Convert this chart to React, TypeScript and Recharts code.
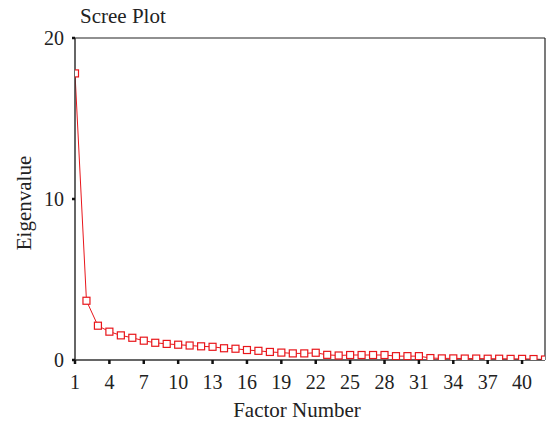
import React from 'react';
import { LineChart, Line, XAxis, YAxis, ReferenceLine } from 'recharts';

const factorNumbers = [
  1, 2, 3, 4, 5, 6, 7, 8, 9, 10, 11, 12, 13, 14, 15, 16, 17, 18, 19, 20, 21,
  22, 23, 24, 25, 26, 27, 28, 29, 30, 31, 32, 33, 34, 35, 36, 37, 38, 39, 40, 41, 42,
];
const eigenvalues = [
  17.8, 3.68, 2.13, 1.76, 1.53, 1.38, 1.2, 1.07, 1.0, 0.95, 0.9, 0.85, 0.82, 0.73, 0.7,
  0.62, 0.57, 0.5, 0.46, 0.41, 0.41, 0.45, 0.32, 0.28, 0.31, 0.31, 0.31, 0.31, 0.24,
  0.24, 0.24, 0.12, 0.1, 0.1, 0.09, 0.09, 0.08, 0.08, 0.07, 0.07, 0.06, 0.03,
];
const xTicks = [1, 4, 7, 10, 13, 16, 19, 22, 25, 28, 31, 34, 37, 40];
const yTicks = [0, 10, 20];

const data = factorNumbers.map((f, i) => ({ factor: f, eigen: eigenvalues[i] }));

const FONT = '"Liberation Serif", "Times New Roman", serif';
const RED = '#e8161b';
const AXIS = '#333';

const SquareDot = (props: any) => {
  const { cx, cy, index } = props;
  if (cx == null || cy == null) return <g key={`d${index}`} />;
  return (
    <rect
      key={`d${index}`}
      x={cx - 3.5}
      y={cy - 3.5}
      width={7}
      height={7}
      fill="#fff"
      stroke={RED}
      strokeWidth={1.2}
    />
  );
};

const YLabel = (props: any) => {
  const vb = props.viewBox || {};
  const x = (vb.x ?? 0) + 31;
  const y = (vb.y ?? 0) + (vb.height ?? 0) / 2 + 4;
  return (
    <text
      x={x}
      y={y}
      transform={`rotate(-90 ${x} ${y})`}
      textAnchor="middle"
      fontFamily={FONT}
      fontSize={21}
      fill="#222"
    >
      Eigenvalue
    </text>
  );
};

const XLabel = (props: any) => {
  const vb = props.viewBox || {};
  const x = (vb.x ?? 0) + (vb.width ?? 0) / 2 - 13;
  const y = (vb.y ?? 0) + 57;
  return (
    <text x={x} y={y} textAnchor="middle" fontFamily={FONT} fontSize={21} fill="#222">
      Factor Number
    </text>
  );
};

export default function App() {
  return (
    <div style={{ position: 'absolute', left: 0, top: 0, width: 549, height: 422, background: '#fff' }}>
      <div
        style={{
          position: 'absolute',
          left: 80,
          top: 4,
          fontFamily: FONT,
          fontSize: 21,
          color: '#222',
          lineHeight: '24px',
          whiteSpace: 'nowrap',
        }}
      >
        Scree Plot
      </div>
      <LineChart
        width={549}
        height={422}
        data={data}
        margin={{ top: 38, right: 4, bottom: 0, left: 0 }}
      >
        <XAxis
          dataKey="factor"
          type="number"
          domain={[1, 42]}
          ticks={xTicks}
          interval={0}
          allowDataOverflow
          height={62}
          stroke={AXIS}
          strokeWidth={1.5}
          tickSize={4}
          tickMargin={11}
          tick={{ fontFamily: FONT, fontSize: 20, fill: '#222' }}
          tickLine={{ stroke: '#111', strokeWidth: 2.5 }}
          label={<XLabel />}
        />
        <YAxis
          type="number"
          domain={[0, 20]}
          ticks={yTicks}
          interval={0}
          allowDataOverflow
          width={75}
          stroke={AXIS}
          strokeWidth={1.5}
          tickSize={3}
          tickMargin={8}
          tick={{ fontFamily: FONT, fontSize: 20, fill: '#222' }}
          tickLine={{ stroke: '#111', strokeWidth: 2.5 }}
          label={<YLabel />}
        />
        <ReferenceLine y={20} stroke="#222" strokeWidth={1.2} ifOverflow="extendDomain" />
        <ReferenceLine x={42} stroke="#222" strokeWidth={1.2} ifOverflow="extendDomain" />
        <Line
          type="linear"
          dataKey="eigen"
          stroke={RED}
          strokeWidth={1}
          dot={SquareDot}
          activeDot={false}
          isAnimationActive={false}
        />
      </LineChart>
    </div>
  );
}
